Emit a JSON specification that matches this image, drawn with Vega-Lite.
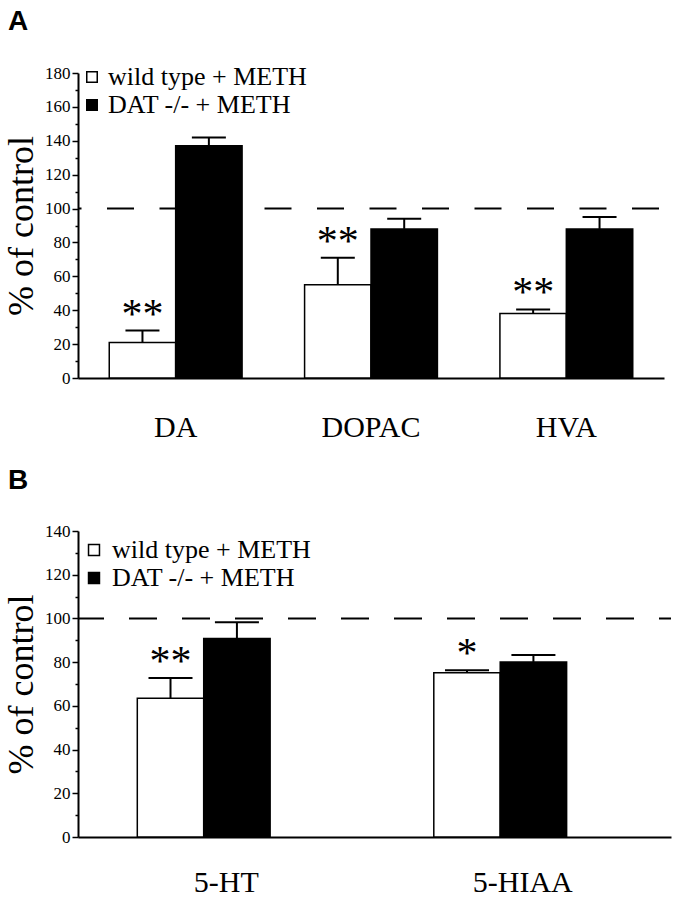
{
  "$schema": "https://vega.github.io/schema/vega-lite/v6.json",
  "padding": {"left": 3, "top": 8, "right": 5, "bottom": 0},
  "bounds": "flush",
  "spacing": 153,
  "resolve": {"scale": {"fill": "independent"}, "legend": {"fill": "independent"}},
  "config": {
    "view": {"stroke": null},
    "font": "Liberation Serif",
    "style": {"guide-label": {"font": "Liberation Serif"}, "guide-title": {"font": "Liberation Serif"}},
    "axis": {"grid": false, "domainColor": "black", "tickColor": "black", "labelColor": "black", "titleColor": "black", "labelFont": "Liberation Serif", "titleFont": "Liberation Serif"},
    "axisY": {"labelOverlap": false, "tickWidth": 1.5, "domainWidth": 2, "labelFontSize": 17, "labelPadding": 2, "titleFontSize": 36, "titleFontWeight": "normal", "titlePadding": 4,
              "labelFont": "Liberation Serif", "titleFont": "Liberation Serif",
              "labelExpr": "datum.value % 20 === 0 ? datum.label : ''",
              "tickSize": {"condition": {"test": "datum.value % 20 === 0", "value": 6}, "value": 3}},
    "legend": {"labelColor": "black", "labelLimit": 0, "labelFont": "Liberation Serif"}
  },
  "datasets": {
    "panelA": [
      {"measure": "DA", "group": "wild type + METH", "value": 21, "upper": 28, "sig": "**"},
      {"measure": "DA", "group": "DAT -/- + METH", "value": 137, "upper": 142, "sig": ""},
      {"measure": "DOPAC", "group": "wild type + METH", "value": 55, "upper": 71, "sig": "**"},
      {"measure": "DOPAC", "group": "DAT -/- + METH", "value": 88, "upper": 94, "sig": ""},
      {"measure": "HVA", "group": "wild type + METH", "value": 38, "upper": 40.5, "sig": "**"},
      {"measure": "HVA", "group": "DAT -/- + METH", "value": 88, "upper": 95, "sig": ""}
    ],
    "panelB": [
      {"measure": "5-HT", "group": "wild type + METH", "value": 63.5, "upper": 72.7, "sig": "**"},
      {"measure": "5-HT", "group": "DAT -/- + METH", "value": 90.8, "upper": 98.2, "sig": ""},
      {"measure": "5-HIAA", "group": "wild type + METH", "value": 75.2, "upper": 76.3, "sig": "*"},
      {"measure": "5-HIAA", "group": "DAT -/- + METH", "value": 80.1, "upper": 83.3, "sig": ""}
    ]
  },
  "vconcat": [
    {
      "width": 586,
      "height": 305,
      "title": {"text": "A", "anchor": "start", "frame": "group", "font": "Liberation Sans", "fontWeight": "bold", "fontSize": 28, "color": "black", "dx": -70, "offset": 6, "baseline": "alphabetic"},
      "layer": [
        {
          "data": {"values": [{"value": 100}]},
          "mark": {"type": "rule", "strokeDash": [27, 25.5], "strokeDashOffset": 47.5, "strokeWidth": 2, "color": "black"},
          "encoding": {"y": {"field": "value", "type": "quantitative", "title": "% of control", "scale": {"domain": [0, 180], "nice": false},
                             "axis": {"values": [0,10,20,30,40,50,60,70,80,90,100,110,120,130,140,150,160,170,180], "labelFont": "Liberation Serif", "titleFont": "Liberation Serif"}}}
        },
        {
          "data": {"name": "panelA"},
          "mark": {"type": "bar", "stroke": "black", "strokeWidth": 1.5},
          "encoding": {
            "x": {"field": "measure", "type": "nominal", "sort": ["DA", "DOPAC", "HVA"], "title": null,
                  "scale": {"paddingInner": 0.32, "paddingOuter": 0.16},
                  "axis": {"labelAngle": 0, "ticks": false, "tickSize": 0, "domainWidth": 2, "labelFontSize": 30, "labelPadding": 34, "labelFont": "Liberation Serif"}},
            "xOffset": {"field": "group", "type": "nominal", "sort": ["wild type + METH", "DAT -/- + METH"], "scale": {"paddingInner": 0, "paddingOuter": 0}},
            "y": {"field": "value", "type": "quantitative", "title": "% of control", "scale": {"domain": [0, 180], "nice": false},
                  "axis": {"values": [0,10,20,30,40,50,60,70,80,90,100,110,120,130,140,150,160,170,180], "labelFont": "Liberation Serif", "titleFont": "Liberation Serif"}},
            "fill": {"field": "group", "type": "nominal", "sort": ["wild type + METH", "DAT -/- + METH"],
                     "scale": {"domain": ["wild type + METH", "DAT -/- + METH"], "range": ["white", "black"]},
                     "legend": {"title": null, "orient": "none", "legendX": 1, "legendY": -9, "symbolType": "square", "symbolSize": 110, "symbolStrokeColor": "black", "symbolStrokeWidth": 1.5, "symbolOpacity": 1, "labelFont": "Liberation Serif", "labelFontSize": 26, "labelLimit": 0, "labelOffset": 3, "rowPadding": 2}}
          }
        },
        {
          "data": {"name": "panelA"},
          "mark": {"type": "rule", "strokeWidth": 2, "color": "black"},
          "encoding": {
            "x": {"field": "measure", "type": "nominal", "sort": ["DA", "DOPAC", "HVA"]},
            "xOffset": {"field": "group", "type": "nominal", "sort": ["wild type + METH", "DAT -/- + METH"]},
            "y": {"field": "value", "type": "quantitative", "title": "% of control", "scale": {"domain": [0, 180], "nice": false},
                  "axis": {"values": [0,10,20,30,40,50,60,70,80,90,100,110,120,130,140,150,160,170,180], "labelFont": "Liberation Serif", "titleFont": "Liberation Serif"}},
            "y2": {"field": "upper"}
          }
        },
        {
          "data": {"name": "panelA"},
          "mark": {"type": "tick", "thickness": 2, "size": 34, "color": "black", "opacity": 1},
          "encoding": {
            "x": {"field": "measure", "type": "nominal", "sort": ["DA", "DOPAC", "HVA"]},
            "xOffset": {"field": "group", "type": "nominal", "sort": ["wild type + METH", "DAT -/- + METH"]},
            "y": {"field": "upper", "type": "quantitative", "title": "% of control", "scale": {"domain": [0, 180], "nice": false},
                  "axis": {"values": [0,10,20,30,40,50,60,70,80,90,100,110,120,130,140,150,160,170,180], "labelFont": "Liberation Serif", "titleFont": "Liberation Serif"}}
          }
        },
        {
          "data": {"name": "panelA"},
          "transform": [{"filter": "datum.sig !== ''"}],
          "mark": {"type": "text", "fontSize": 42, "font": "Liberation Serif", "baseline": "alphabetic", "align": "center", "dy": -3, "color": "black"},
          "encoding": {
            "x": {"field": "measure", "type": "nominal", "sort": ["DA", "DOPAC", "HVA"]},
            "xOffset": {"field": "group", "type": "nominal", "sort": ["wild type + METH", "DAT -/- + METH"]},
            "y": {"field": "upper", "type": "quantitative", "title": "% of control", "scale": {"domain": [0, 180], "nice": false},
                  "axis": {"values": [0,10,20,30,40,50,60,70,80,90,100,110,120,130,140,150,160,170,180], "labelFont": "Liberation Serif", "titleFont": "Liberation Serif"}},
            "text": {"field": "sig"}
          }
        }
      ]
    },
    {
      "width": 593,
      "height": 306,
      "title": {"text": "B", "anchor": "start", "frame": "group", "font": "Liberation Sans", "fontWeight": "bold", "fontSize": 28, "color": "black", "dx": -70, "offset": 5, "baseline": "alphabetic"},
      "layer": [
        {
          "data": {"values": [{"value": 100}]},
          "mark": {"type": "rule", "strokeDash": [28, 25], "strokeDashOffset": 16, "strokeWidth": 2, "color": "black"},
          "encoding": {"y": {"field": "value", "type": "quantitative", "title": "% of control", "scale": {"domain": [0, 140], "nice": false},
                             "axis": {"values": [0,10,20,30,40,50,60,70,80,90,100,110,120,130,140], "labelFont": "Liberation Serif", "titleFont": "Liberation Serif"}}}
        },
        {
          "data": {"name": "panelB"},
          "mark": {"type": "bar", "stroke": "black", "strokeWidth": 1.5},
          "encoding": {
            "x": {"field": "measure", "type": "nominal", "sort": ["5-HT", "5-HIAA"], "title": null,
                  "scale": {"paddingInner": 0.4, "paddingOuter": 0.2},
                  "axis": {"labelAngle": 0, "ticks": false, "tickSize": 0, "domainWidth": 2, "labelFontSize": 30, "labelPadding": 30, "labelFont": "Liberation Serif"}},
            "xOffset": {"field": "group", "type": "nominal", "sort": ["wild type + METH", "DAT -/- + METH"], "scale": {"paddingInner": 0, "paddingOuter": 0}},
            "y": {"field": "value", "type": "quantitative", "title": "% of control", "scale": {"domain": [0, 140], "nice": false},
                  "axis": {"values": [0,10,20,30,40,50,60,70,80,90,100,110,120,130,140], "labelFont": "Liberation Serif", "titleFont": "Liberation Serif"}},
            "fill": {"field": "group", "type": "nominal", "sort": ["wild type + METH", "DAT -/- + METH"],
                     "scale": {"domain": ["wild type + METH", "DAT -/- + METH"], "range": ["white", "black"]},
                     "legend": {"title": null, "orient": "none", "legendX": 3, "legendY": 6, "symbolType": "square", "symbolSize": 120, "symbolStrokeColor": "black", "symbolStrokeWidth": 1.5, "symbolOpacity": 1, "labelFont": "Liberation Serif", "labelFontSize": 26, "labelLimit": 0, "labelOffset": 5, "rowPadding": 2}}
          }
        },
        {
          "data": {"name": "panelB"},
          "mark": {"type": "rule", "strokeWidth": 2, "color": "black"},
          "encoding": {
            "x": {"field": "measure", "type": "nominal", "sort": ["5-HT", "5-HIAA"]},
            "xOffset": {"field": "group", "type": "nominal", "sort": ["wild type + METH", "DAT -/- + METH"]},
            "y": {"field": "value", "type": "quantitative", "title": "% of control", "scale": {"domain": [0, 140], "nice": false},
                  "axis": {"values": [0,10,20,30,40,50,60,70,80,90,100,110,120,130,140], "labelFont": "Liberation Serif", "titleFont": "Liberation Serif"}},
            "y2": {"field": "upper"}
          }
        },
        {
          "data": {"name": "panelB"},
          "mark": {"type": "tick", "thickness": 2, "size": 44, "color": "black", "opacity": 1},
          "encoding": {
            "x": {"field": "measure", "type": "nominal", "sort": ["5-HT", "5-HIAA"]},
            "xOffset": {"field": "group", "type": "nominal", "sort": ["wild type + METH", "DAT -/- + METH"]},
            "y": {"field": "upper", "type": "quantitative", "title": "% of control", "scale": {"domain": [0, 140], "nice": false},
                  "axis": {"values": [0,10,20,30,40,50,60,70,80,90,100,110,120,130,140], "labelFont": "Liberation Serif", "titleFont": "Liberation Serif"}}
          }
        },
        {
          "data": {"name": "panelB"},
          "transform": [{"filter": "datum.sig !== ''"}],
          "mark": {"type": "text", "fontSize": 42, "font": "Liberation Serif", "baseline": "alphabetic", "align": "center", "dy": -3, "color": "black"},
          "encoding": {
            "x": {"field": "measure", "type": "nominal", "sort": ["5-HT", "5-HIAA"]},
            "xOffset": {"field": "group", "type": "nominal", "sort": ["wild type + METH", "DAT -/- + METH"]},
            "y": {"field": "upper", "type": "quantitative", "title": "% of control", "scale": {"domain": [0, 140], "nice": false},
                  "axis": {"values": [0,10,20,30,40,50,60,70,80,90,100,110,120,130,140], "labelFont": "Liberation Serif", "titleFont": "Liberation Serif"}},
            "text": {"field": "sig"}
          }
        }
      ]
    }
  ]
}
